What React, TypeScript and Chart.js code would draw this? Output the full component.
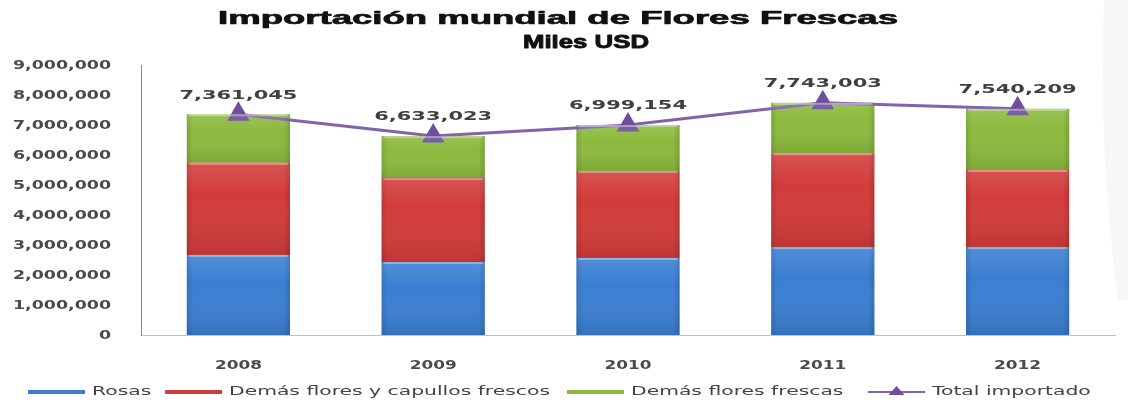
import React, { useEffect, useRef } from "react";
import { Chart, registerables } from "chart.js";

Chart.register(...registerables);

const categories = ["2008", "2009", "2010", "2011", "2012"];
const rosas = [2670000, 2430000, 2570000, 2930000, 2930000];
const demasCapullos = [3070000, 2800000, 2900000, 3130000, 2570000];
const demasFrescas = [1620000, 1400000, 1530000, 1680000, 2040000];
const totalImportado = [7361045, 6633023, 6999154, 7743003, 7540209];
const yTickValues = [0, 1000000, 2000000, 3000000, 4000000, 5000000, 6000000, 7000000, 8000000, 9000000];
const titleLines = ["Importación mundial de Flores Frescas", "Miles USD"];
const seriesNames = ["Rosas", "Demás flores y capullos frescos", "Demás flores frescas", "Total importado"];

const COLORS = {
  blue: "#3b7fd2",
  red: "#d23c3a",
  green: "#8cba3e",
  purple: "#8063ab",
  marker: "#6d4f9c",
  text: "#4a4a4a",
};

const fmt = (v: number) => v.toLocaleString("en-US");

function measure(ctx: CanvasRenderingContext2D, text: string, font: string) {
  ctx.save();
  ctx.font = font;
  const w = ctx.measureText(text).width;
  ctx.restore();
  return w;
}

function drawText(
  ctx: CanvasRenderingContext2D,
  text: string,
  x: number,
  y: number,
  font: string,
  color: string,
  sx: number,
  align: "left" | "center" | "right",
  stroke = 0
) {
  ctx.save();
  ctx.font = font;
  ctx.fillStyle = color;
  ctx.textBaseline = "middle";
  ctx.textAlign = "left";
  const w = ctx.measureText(text).width * sx;
  const left = align === "left" ? x : align === "center" ? x - w / 2 : x - w;
  ctx.translate(left, y);
  ctx.scale(sx, 1);
  ctx.fillText(text, 0, 0);
  if (stroke > 0) {
    ctx.strokeStyle = color;
    ctx.lineWidth = stroke;
    ctx.lineJoin = "round";
    ctx.strokeText(text, 0, 0);
  }
  ctx.restore();
}

const textPlugin = {
  id: "customText",
  beforeDraw(chart: any) {
    const ctx = chart.ctx as CanvasRenderingContext2D;
    ctx.save();
    ctx.fillStyle = "#ffffff";
    ctx.fillRect(0, 0, chart.width, chart.height);
    ctx.fillStyle = "#f7f7f7";
    ctx.beginPath();
    ctx.moveTo(1104, 0);
    ctx.lineTo(chart.width, 0);
    ctx.lineTo(chart.width, 300);
    ctx.lineTo(1118, 300);
    ctx.quadraticCurveTo(1098, 150, 1104, 0);
    ctx.closePath();
    ctx.fill();
    ctx.restore();
  },
  afterDatasetsDraw(chart: any) {
    const ctx = chart.ctx as CanvasRenderingContext2D;
    for (let d = 0; d < 3; d++) {
      const meta = chart.getDatasetMeta(d);
      meta.data.forEach((bar: any) => {
        const left = bar.x - bar.width / 2;
        const right = bar.x + bar.width / 2;
        const top = Math.min(bar.y, bar.base);
        const h = Math.abs(bar.base - bar.y);
        ctx.save();
        const g = ctx.createLinearGradient(left, 0, right, 0);
        g.addColorStop(0, "rgba(0,0,0,0.12)");
        g.addColorStop(0.06, "rgba(0,0,0,0.0)");
        g.addColorStop(0.94, "rgba(0,0,0,0.0)");
        g.addColorStop(1, "rgba(0,0,0,0.14)");
        ctx.fillStyle = g;
        ctx.fillRect(left, top, right - left, h);
        const gv = ctx.createLinearGradient(0, top, 0, top + h);
        gv.addColorStop(0, "rgba(255,255,255,0.12)");
        gv.addColorStop(0.35, "rgba(255,255,255,0)");
        gv.addColorStop(1, "rgba(0,0,0,0.10)");
        ctx.fillStyle = gv;
        ctx.fillRect(left, top, right - left, h);
        ctx.fillStyle = "rgba(255,255,255,0.35)";
        ctx.fillRect(left + 2, top, right - left - 4, 2);
        ctx.restore();
      });
    }
  },
  afterDraw(chart: any) {
    const ctx = chart.ctx as CanvasRenderingContext2D;
    const xs = chart.scales.x;
    const ys = chart.scales.y;

    // Title
    const titleFont = 'bold 19px "Liberation Sans", Arial, sans-serif';
    const ts = 680 / measure(ctx, titleLines[0], titleFont);
    const ts2 = 126 / measure(ctx, titleLines[1], titleFont);
    drawText(ctx, titleLines[0], 558, 19, titleFont, "#111111", ts, "center", 0.7);
    drawText(ctx, titleLines[1], 586, 43, titleFont, "#111111", ts2, "center", 0.9);

    // Y ticks
    const yFont = 'bold 12px "DejaVu Sans", sans-serif';
    const ysx = 98 / measure(ctx, fmt(9000000), yFont);
    yTickValues.forEach((v) => {
      drawText(ctx, fmt(v), 111, ys.getPixelForValue(v) + 1, yFont, COLORS.text, ysx, "right");
    });

    // X ticks
    const xFont = 'bold 13px "DejaVu Sans", sans-serif';
    const xsx = 47 / measure(ctx, "2008", xFont);
    categories.forEach((c, i) => {
      drawText(ctx, c, xs.getPixelForValue(i), 366, xFont, COLORS.text, xsx, "center");
    });

    // Data labels on total line
    const dFont = 'bold 13px "DejaVu Sans", sans-serif';
    const dsx = 118 / measure(ctx, fmt(7361045), dFont);
    const meta = chart.getDatasetMeta(3);
    meta.data.forEach((pt: any, i: number) => {
      drawText(ctx, fmt(totalImportado[i]), pt.x, pt.y - 19, dFont, "#404040", dsx, "center");
    });

    // Legend
    const lFont = '12px "DejaVu Sans", sans-serif';
    const lsx = 321 / measure(ctx, seriesNames[1], lFont);
    const starts = [28, 165, 567, 868];
    const swatchColors = [COLORS.blue, COLORS.red, COLORS.green];
    const ly = 392;
    starts.forEach((sx0, i) => {
      ctx.save();
      if (i < 3) {
        ctx.fillStyle = swatchColors[i];
        ctx.fillRect(sx0, ly - 2, 57, 4);
      } else {
        ctx.strokeStyle = COLORS.purple;
        ctx.lineWidth = 2;
        ctx.beginPath();
        ctx.moveTo(sx0, ly);
        ctx.lineTo(sx0 + 57, ly);
        ctx.stroke();
        ctx.fillStyle = COLORS.marker;
        ctx.beginPath();
        const cx = sx0 + 28.5;
        ctx.moveTo(cx, ly - 6);
        ctx.lineTo(cx + 8, ly + 3);
        ctx.lineTo(cx - 8, ly + 3);
        ctx.closePath();
        ctx.fill();
      }
      ctx.restore();
      drawText(ctx, seriesNames[i], sx0 + 64, ly, lFont, "#444444", lsx, "left");
    });
  },
};

export default function App() {
  const ref = useRef<HTMLCanvasElement | null>(null);

  useEffect(() => {
    document.body.style.margin = "0";
    if (!ref.current) return;
    const chart = new Chart(ref.current, {
      data: {
        labels: categories,
        datasets: [
          {
            type: "bar",
            label: seriesNames[0],
            data: rosas,
            backgroundColor: COLORS.blue,
            stack: "bars",
            order: 2,
            barPercentage: 0.53,
            categoryPercentage: 1,
          },
          {
            type: "bar",
            label: seriesNames[1],
            data: demasCapullos,
            backgroundColor: COLORS.red,
            stack: "bars",
            order: 2,
            barPercentage: 0.53,
            categoryPercentage: 1,
          },
          {
            type: "bar",
            label: seriesNames[2],
            data: demasFrescas,
            backgroundColor: COLORS.green,
            stack: "bars",
            order: 2,
            barPercentage: 0.53,
            categoryPercentage: 1,
          },
          {
            type: "line",
            label: seriesNames[3],
            data: totalImportado,
            borderColor: COLORS.purple,
            borderWidth: 3,
            backgroundColor: COLORS.marker,
            pointBackgroundColor: COLORS.marker,
            pointBorderColor: COLORS.marker,
            pointStyle: "triangle",
            pointRadius: 10,
            tension: 0,
            stack: "line",
            order: 1,
          },
        ],
      } as any,
      options: {
        animation: false,
        responsive: true,
        maintainAspectRatio: false,
        layout: { padding: { left: 141, right: 10, top: 65, bottom: 70 } },
        plugins: {
          legend: { display: false },
          title: { display: false },
          tooltip: { enabled: false },
        },
        scales: {
          x: {
            stacked: true,
            offset: true,
            grid: { display: false, drawTicks: false },
            border: { display: true, color: "#c0c0c0", width: 1 },
            ticks: { display: false },
            afterFit: (s: any) => {
              s.height = 0;
            },
          },
          y: {
            stacked: true,
            min: 0,
            max: 9000000,
            grid: { display: false, drawTicks: false },
            border: { display: true, color: "#8a8a8a", width: 1 },
            ticks: { display: false, stepSize: 1000000 },
            afterFit: (s: any) => {
              s.width = 0;
            },
          },
        },
      } as any,
      plugins: [textPlugin],
    });
    return () => chart.destroy();
  }, []);

  return (
    <div style={{ width: "1128px", height: "405px", position: "relative" }}>
      <canvas ref={ref} />
    </div>
  );
}
